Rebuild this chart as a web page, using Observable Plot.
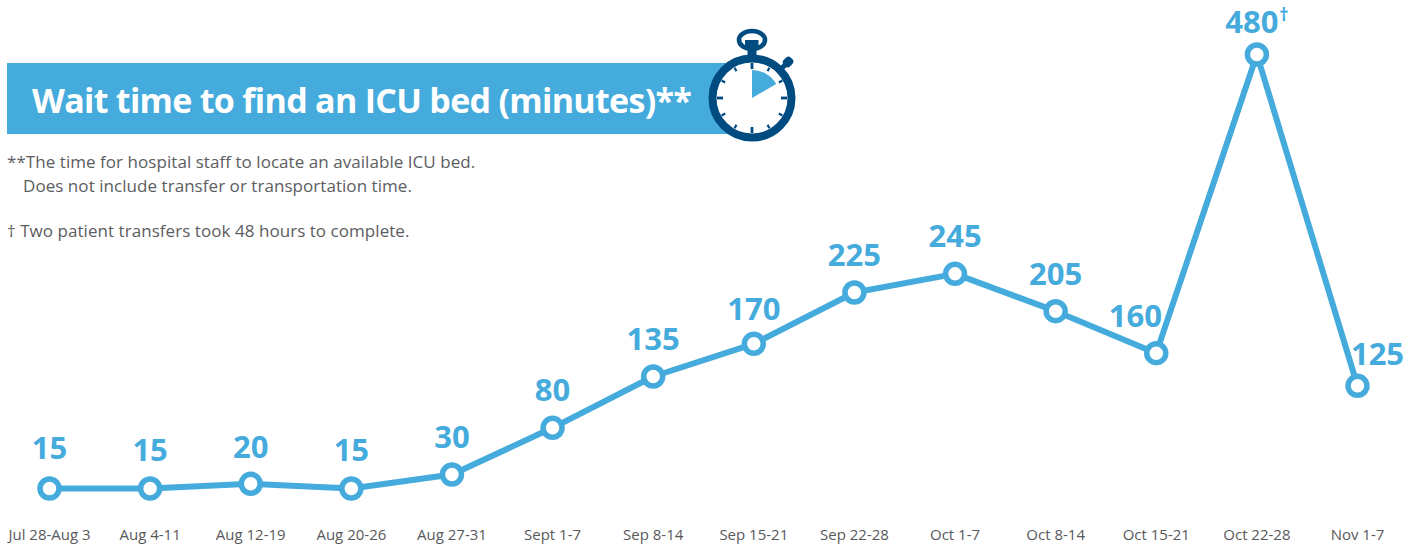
<!DOCTYPE html>
<html>
<head>
<meta charset="utf-8">
<script src="https://cdn.jsdelivr.net/npm/d3@7"></script>
<script src="https://cdn.jsdelivr.net/npm/@observablehq/plot@0.6"></script>
<style>
html,body{margin:0;padding:0;background:#fff;}
#wrap{position:relative;width:1416px;height:546px;overflow:hidden;font-family:"Open Sans",sans-serif;}
#wrap svg{display:block;}
#banner{position:absolute;left:7px;top:63px;width:720px;height:71px;background:#45abdc;}
#title{position:absolute;left:32px;top:77px;margin:0;color:#fff;font-size:34px;font-weight:700;line-height:46px;white-space:nowrap;letter-spacing:-0.7px;}
.note{position:absolute;margin:0;left:7px;color:#5c5d5f;font-size:17px;line-height:24px;white-space:nowrap;letter-spacing:0.05px;}
#watch{position:absolute;left:700px;top:20px;}
#chart{position:absolute;left:0;top:0;}
</style>
</head>
<body>
<div id="wrap">
  <div id="banner"></div>
  <h1 id="title">Wait time to find an ICU bed (minutes)**</h1>
  <p class="note" style="top:150px">**The time for hospital staff to locate an available ICU bed.<br><span style="margin-left:16px">Does not include transfer or transportation time.</span></p>
  <p class="note" style="top:219px">† Two patient transfers took 48 hours to complete.</p>
  <div id="chart"></div>
  <svg id="watch" width="110" height="130" viewBox="700 20 110 130"></svg>
</div>
<script>
const weeks = ["Jul 28-Aug 3","Aug 4-11","Aug 12-19","Aug 20-26","Aug 27-31","Sept 1-7","Sep 8-14","Sep 15-21","Sep 22-28","Oct 1-7","Oct 8-14","Oct 15-21","Oct 22-28","Nov 1-7"];
const minutes = [15,15,20,15,30,80,135,170,225,245,205,160,480,125];
const labels = ["15","15","20","15","30","80","135","170","225","245","205","160","480","125"];
const labelDx = [0,0,0,0,0,0,0,0,0,0,0,-21,-5,20];
const labelDy = [-39,-37,-36,-37,-36,-37,-36,-34,-36,-37,-36,-36,-31,-31];
const daggerWeek = ["Oct 22-28"];
const daggerValue = [480];

const blue = "#45abdc";
const data = weeks.map((week,i)=>({week,minutes:minutes[i],label:labels[i],dx:labelDx[i],dy:labelDy[i]}));

const plot = Plot.plot({
  width:1416,height:546,
  marginLeft:0,marginRight:0,marginTop:0,marginBottom:0,
  style:{background:"transparent",fontFamily:"'Open Sans',sans-serif"},
  x:{type:"point",domain:weeks,range:[49,1357],padding:0,round:false,label:null},
  y:{domain:[15,480],range:[488,54],axis:null,label:null},
  marks:[
    Plot.axisX({anchor:"bottom",tickSize:0,tickPadding:0,label:null,fontSize:15,fill:"#58595b",
      ticks:weeks,dy:-17}),
    Plot.line(data,{x:"week",y:"minutes",stroke:blue,strokeWidth:6,curve:"linear"}),
    Plot.dot(data,{x:"week",y:"minutes",r:9.5,fill:"#fff",stroke:blue,strokeWidth:5.5}),
    ...data.map(d=>Plot.text([d],{x:"week",y:"minutes",text:"label",dx:d.dx,dy:d.dy,
      fill:blue,fontSize:31,fontWeight:700,textAnchor:"middle",lineAnchor:"middle"})),
    Plot.text(daggerWeek,{x:d=>d,y:daggerValue,text:()=>"†",dx:27,dy:-39,fill:blue,fontSize:18,fontWeight:700,lineAnchor:"middle"})
  ]
});
document.getElementById("chart").append(plot);

// stopwatch pictogram
const navy="#004b80";
const w=d3.select("#watch");
const cx=752,cy=98;
w.append("ellipse").attr("cx",cx).attr("cy",40).attr("rx",13).attr("ry",9).attr("fill","none").attr("stroke",navy).attr("stroke-width",4.6);
w.append("rect").attr("x",745).attr("y",40).attr("width",13.5).attr("height",7).attr("fill",navy);
w.append("rect").attr("x",747.5).attr("y",46).attr("width",9).attr("height",12).attr("fill",navy);
w.append("g").attr("transform",`rotate(45 ${cx} ${cy})`).call(g=>{
  g.append("rect").attr("x",cx-2.5).attr("y",cy-50).attr("width",5).attr("height",8).attr("fill",navy);
  g.append("rect").attr("x",cx-4.5).attr("y",cy-56).attr("width",9).attr("height",10).attr("rx",3.5).attr("fill",navy);
});
w.append("circle").attr("cx",cx).attr("cy",cy).attr("r",39.5).attr("fill","#fff").attr("stroke",navy).attr("stroke-width",8);
for(let h=0;h<12;h++){
  const major=h%3===0;
  w.append("line").attr("x1",cx).attr("x2",cx).attr("y1",cy-35).attr("y2",cy-(major?29:31))
    .attr("stroke",navy).attr("stroke-width",major?2.8:2.2)
    .attr("transform",`rotate(${h*30} ${cx} ${cy})`);
}
w.append("path").attr("d",d3.arc()({innerRadius:0,outerRadius:28,startAngle:0,endAngle:Math.PI/3}))
  .attr("transform",`translate(${cx},${cy})`).attr("fill",blue);
</script>
</body>
</html>
